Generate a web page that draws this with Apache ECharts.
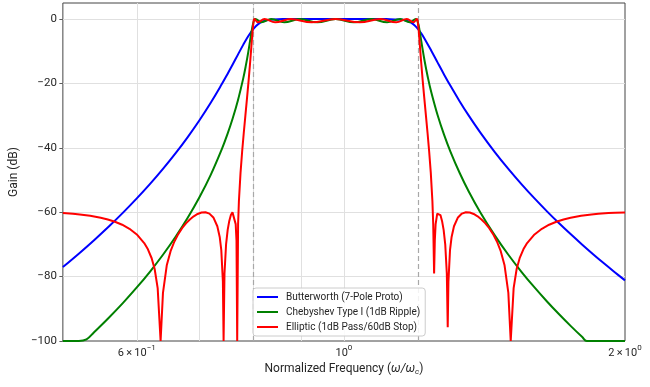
<!DOCTYPE html>
<html>
<head>
<meta charset="utf-8">
<script src="https://cdn.jsdelivr.net/npm/echarts@6/dist/echarts.min.js"></script>
<style>
html,body{margin:0;padding:0;background:#fff;}
#chart{width:650px;height:387px;}
</style>
</head>
<body>
<div id="chart"></div>
<script>
// ---- Data ----
const butterFreq = [0.5,0.52,0.54,0.56,0.58,0.6,0.62,0.64,0.66,0.68,0.7,0.72,0.74,0.75,0.76,0.77,0.78,0.79,0.8,0.81,0.82,0.83,0.84,0.86,0.9,0.95,1.0,1.05,1.1,1.12,1.15,1.16,1.17,1.18,1.19,1.2,1.21,1.22,1.24,1.26,1.28,1.3,1.33,1.36,1.4,1.45,1.5,1.55,1.6,1.65,1.7,1.75,1.8,1.85,1.9,1.95,2.0];
const butterGain = [-77.03,-72.88,-68.68,-64.44,-60.12,-55.71,-51.20,-46.54,-41.73,-36.72,-31.50,-26.00,-20.20,-17.19,-14.12,-11.03,-8.01,-5.25,-3.01,-1.49,-0.64,-0.25,-0.09,0,0,0,0,0,0,-0.01,-0.15,-0.31,-0.61,-1.12,-1.90,-3.01,-4.42,-6.07,-9.75,-13.53,-17.19,-20.66,-25.49,-29.91,-35.26,-41.22,-46.54,-51.34,-55.71,-59.72,-63.43,-66.87,-70.08,-73.10,-75.94,-78.62,-81.17];

const chebFreq = [0.5,0.51,0.52,0.53,0.54,0.56,0.58,0.6,0.62,0.64,0.66,0.68,0.7,0.72,0.74,0.75,0.76,0.77,0.78,0.785,0.79,0.795,0.8,0.80402,0.81604,0.83583,0.863,0.89684,0.93629,0.9798,1.02531,1.07041,1.1124,1.14856,1.17642,1.194,1.2,1.205,1.21,1.22,1.23,1.24,1.26,1.28,1.3,1.33,1.36,1.4,1.45,1.5,1.55,1.6,1.65,1.7,1.75,1.8,1.82,1.9,2.0];
const chebGain = [-100,-100,-100,-99.5,-97.28,-92.77,-88.15,-83.37,-78.41,-73.21,-67.7,-61.82,-55.45,-48.4,-40.4,-35.89,-30.89,-25.2,-18.49,-14.55,-10.09,-5.15,-1,0,-1,0,-1,0,-1,0,-1,0,-1,0,-1,0,-1,-3.53,-6.75,-12.94,-18.13,-22.55,-29.87,-35.89,-41.06,-47.73,-53.46,-60.06,-67.11,-73.21,-78.57,-83.37,-87.72,-91.7,-95.37,-98.77,-100,-100,-100];

const ellipLowFreq = [0.5,0.512646,0.521354,0.534862,0.548912,0.558595,0.568541,0.578749,0.589236,0.6,0.611055,0.616692,0.622405,0.627029,0.631702,0.636272,0.64,0.646021,0.65212,0.6583,0.664562,0.670902,0.67733,0.683839,0.690432,0.697112,0.703873,0.710728,0.717668,0.724695,0.731812,0.736125,0.739019,0.741926,0.743211,0.74485,0.747787,0.750739,0.753706,0.756687,0.759684,0.762695,0.76572,0.767239,0.768574,0.770287,0.771817,0.774893,0.777974,0.781075,0.784191,0.787323,0.790469,0.79363,0.796807,0.798402,0.8];
const ellipLowGain = [-60.25,-60.47,-60.68,-61.1,-61.7,-62.25,-62.95,-63.88,-65.14,-66.9,-69.57,-71.52,-74.29,-77.63,-83.57,-100,-85.04,-76.49,-72.1,-69.09,-66.8,-64.97,-63.47,-62.25,-61.27,-60.54,-60.1,-60.01,-60.42,-61.62,-64.36,-67.69,-71.76,-81.61,-100,-79.13,-69.95,-65.5,-62.69,-60.89,-60.04,-60.46,-63.69,-68.79,-100,-63.63,-56.59,-47.77,-41.2,-35.46,-30.06,-24.71,-19.17,-13.18,-6.6,-3.4,-1];
const ellipPassFreq = [0.8,0.802106,0.808933,0.822029,0.843843,0.877114,0.923216,0.979796,1.039844,1.094499,1.137652,1.167842,1.186749,1.19685,1.2];
const ellipPassGain = [-1,0,-1,0,-1,0,-1,0,-1,0,-1,0,-1,0,-1];
const ellipHighFreq = [1.2,1.202402,1.204808,1.209631,1.214469,1.219323,1.224192,1.229075,1.233974,1.238888,1.243817,1.246287,1.249066,1.25124,1.253721,1.258695,1.263684,1.268688,1.273706,1.27874,1.283788,1.28885,1.291692,1.293928,1.299019,1.304126,1.311812,1.324695,1.337668,1.350728,1.363877,1.377112,1.390433,1.403839,1.41733,1.430905,1.444562,1.4583,1.472121,1.486021,1.5,1.508789,1.519703,1.53103,1.542405,1.556692,1.571055,1.6,1.629234,1.65875,1.688539,1.718596,1.748913,1.794861,1.841355,1.872644,1.92,1.951843,2.0];
const ellipHighGain = [-1,-3.4,-6.6,-13.18,-19.17,-24.71,-30.06,-35.46,-41.2,-47.77,-56.59,-63.63,-79,-68.79,-63.69,-60.46,-60.04,-60.89,-62.69,-65.5,-69.95,-79.13,-95.7,-81.61,-71.76,-67.69,-64.36,-61.62,-60.42,-60.01,-60.1,-60.54,-61.27,-62.25,-63.47,-64.97,-66.8,-69.09,-72.1,-76.49,-85.04,-100,-83.57,-77.63,-74.29,-71.52,-69.57,-66.9,-65.14,-63.88,-62.95,-62.25,-61.7,-61.1,-60.68,-60.47,-60.25,-60.15,-60.05];

const seriesNames = ['Butterworth (7-Pole Proto)', 'Chebyshev Type I (1dB Ripple)', 'Elliptic (1dB Pass/60dB Stop)'];
const xLabelValues = [0.6, 1, 2];
const xLabelTexts = ['6\u2009\u00d7\u200910{sup|\u22121}', '10{sup|0}', '2\u2009\u00d7\u200910{sup|0}'];
const xTickValues = [1];
const xGridValues = [0.6, 0.7, 0.8, 0.9, 1.0];
const yGridValues = [-80, -60, -40, -20, 0];
const yTickValues = [-100, -80, -60, -40, -20, 0];
const bandEdges = [0.8, 1.2];

// ---- Chart ----
const FONT = 'Roboto, "Open Sans", sans-serif';
const TXT = '#262626';
const pairs = (xs, ys) => xs.map((x, i) => [x, ys[i]]);

const chart = echarts.init(document.getElementById('chart'), null, {renderer: 'canvas'});

const gridMarks = [];
xGridValues.forEach(v => gridMarks.push({xAxis: v, lineStyle: {color: '#e0e0e0', width: 1, type: 'solid'}}));
yGridValues.forEach(v => gridMarks.push({yAxis: v, lineStyle: {color: '#e0e0e0', width: 1, type: 'solid'}}));
bandEdges.forEach(v => gridMarks.push({xAxis: v, lineStyle: {color: '#a8a8a8', width: 1.2, type: [5, 3]}}));

const option = {
  animation: false,
  backgroundColor: '#ffffff',
  textStyle: {fontFamily: FONT},
  grid: {left: 57, right: 25, top: 3, bottom: 46, show: true, borderColor: '#454545', borderWidth: 1, backgroundColor: '#fff', containLabel: false},
  legend: {
    data: seriesNames,
    orient: 'vertical',
    left: 253, top: 288,
    icon: 'rect', itemWidth: 21, itemHeight: 2, itemGap: 3,
    padding: [3, 5, 3, 4],
    backgroundColor: 'rgba(255,255,255,0.85)',
    borderColor: '#cccccc', borderWidth: 1, borderRadius: 3,
    textStyle: {fontSize: 10, color: TXT, fontFamily: FONT, lineHeight: 12, padding: [0, 0, 0, 3]},
    selectedMode: false
  },
  xAxis: {
    type: 'log', logBase: 10, min: 0.5, max: 2,
    axisLine: {show: false},
    axisTick: {show: true, customValues: xTickValues, length: 3.5, lineStyle: {color: '#333', width: 0.8}},
    axisLabel: {
      customValues: xLabelValues,
      margin: 3,
      fontSize: 11, color: TXT, fontFamily: FONT,
      formatter: function (v) {
        const i = xLabelValues.findIndex(t => Math.abs(t - v) < 1e-9);
        return i < 0 ? '' : xLabelTexts[i];
      },
      rich: {sup: {fontSize: 8, color: TXT, fontFamily: FONT, padding: [0, 0, 10, 0]}}
    },
    splitLine: {show: false},
    minorTick: {show: false},
    name: '{n|Normalized Frequency (}{it|\u03c9/\u03c9}{sub|c}{n|)}',
    nameLocation: 'middle', nameGap: 21,
    nameTextStyle: {
      fontSize: 12, color: TXT, fontFamily: FONT,
      rich: {
        n: {fontSize: 12, color: TXT, fontFamily: FONT},
        it: {fontSize: 12, color: TXT, fontFamily: FONT, fontStyle: 'italic'},
        sub: {fontSize: 8, color: TXT, fontFamily: FONT, fontStyle: 'italic', padding: [6, 0, 0, 0]}
      }
    }
  },
  yAxis: {
    type: 'value', min: -100, max: 5, interval: 20,
    axisLine: {show: false},
    axisTick: {show: true, customValues: yTickValues, length: 3.5, lineStyle: {color: '#333', width: 0.8}},
    axisLabel: {
      customValues: yTickValues,
      margin: 6, fontSize: 11.5, color: TXT, fontFamily: FONT,
      formatter: v => (v === 0 ? '0' : '\u2212' + Math.abs(v))
    },
    splitLine: {show: false},
    name: 'Gain (dB)', nameLocation: 'middle', nameGap: 40,
    nameTextStyle: {fontSize: 12, color: TXT, fontFamily: FONT}
  },
  series: [
    {
      name: seriesNames[0], type: 'line', data: pairs(butterFreq, butterGain),
      symbol: 'none', smooth: 0.4, clip: false, z: 3,
      lineStyle: {color: '#0000ff', width: 2}, itemStyle: {color: '#0000ff'},
      markLine: {silent: true, symbol: 'none', z: 1, label: {show: false}, emphasis: {disabled: true}, data: gridMarks}
    },
    {
      name: seriesNames[1], type: 'line', data: pairs(chebFreq, chebGain),
      symbol: 'none', smooth: 0.4, clip: false, z: 4,
      lineStyle: {color: '#008000', width: 2}, itemStyle: {color: '#008000'}
    },
    {
      name: seriesNames[2], type: 'line', data: pairs(ellipLowFreq, ellipLowGain),
      symbol: 'none', smooth: false, clip: false, z: 5,
      lineStyle: {color: '#ff0000', width: 2}, itemStyle: {color: '#ff0000'}
    },
    {
      name: seriesNames[2], type: 'line', data: pairs(ellipPassFreq, ellipPassGain),
      symbol: 'none', smooth: 0.4, clip: false, z: 5,
      lineStyle: {color: '#ff0000', width: 2}, itemStyle: {color: '#ff0000'}
    },
    {
      name: seriesNames[2], type: 'line', data: pairs(ellipHighFreq, ellipHighGain),
      symbol: 'none', smooth: false, clip: false, z: 5,
      lineStyle: {color: '#ff0000', width: 2}, itemStyle: {color: '#ff0000'}
    }
  ]
};
chart.setOption(option);
</script>
</body>
</html>
